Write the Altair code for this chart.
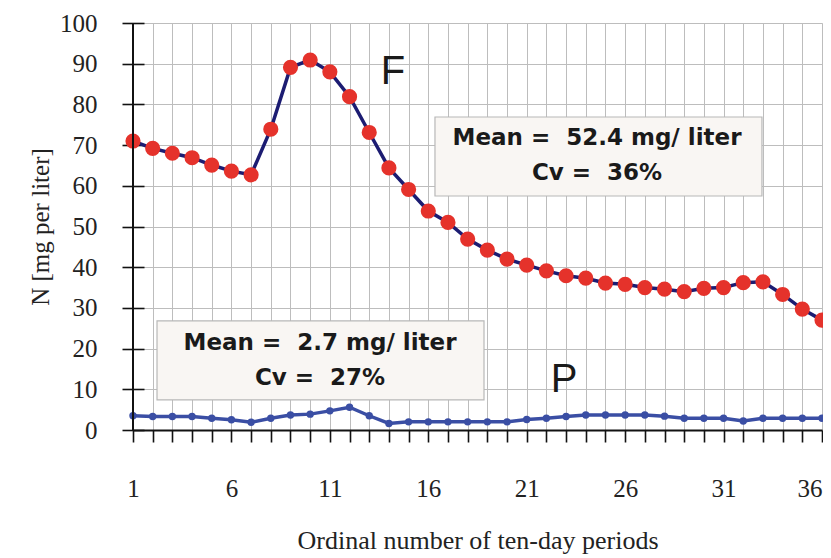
import altair as alt
import pandas as pd

periods = list(range(1, 37))
F_vals = [71.0, 69.2, 68.0, 66.9, 65.1, 63.6, 62.7, 73.9, 89.1, 90.9, 88.0, 81.9,
          73.1, 64.4, 59.1, 53.8, 51.0, 46.9, 44.2, 42.0, 40.5, 39.1, 37.9, 37.3,
          36.1, 35.8, 35.0, 34.6, 34.0, 34.8, 35.0, 36.2, 36.4, 33.3, 29.7, 27.0]
P_vals = [3.5, 3.3, 3.3, 3.3, 2.9, 2.5, 1.9, 2.9, 3.7, 3.9, 4.7, 5.6,
          3.5, 1.6, 2.0, 2.0, 2.0, 2.0, 2.0, 2.0, 2.6, 2.9, 3.3, 3.7,
          3.7, 3.7, 3.7, 3.4, 2.9, 2.9, 2.9, 2.2, 2.9, 2.9, 2.9, 2.9]

y_ticks = list(range(0, 101, 10))

# annotation boxes (data coordinates)
box_x1 = [16.34, 2.22]
box_x2 = [32.95, 18.83]
box_y1 = [57.5, 7.4]
box_y2 = [76.9, 26.8]
box_text_x = [24.57, 24.57, 10.5, 10.5]
box_text_y = [71.7, 63.1, 21.4, 12.8]
box_texts = ["Mean =\u00a0 52.4 mg/ liter", "Cv =\u00a0 36%",
             "Mean =\u00a0 2.7 mg/ liter", "Cv =\u00a0 27%"]

series_labels = ["F", "P"]
series_label_x = [14.2, 22.9]
series_label_y = [88.0, 12.3]

df_F = pd.DataFrame({"period": periods, "value": F_vals})
df_P = pd.DataFrame({"period": periods, "value": P_vals})
df_box = pd.DataFrame({"x1": box_x1, "x2": box_x2, "y1": box_y1, "y2": box_y2})
df_bt = pd.DataFrame({"x": box_text_x, "y": box_text_y, "t": box_texts})
df_sl = pd.DataFrame({"x": series_label_x, "y": series_label_y, "t": series_labels})

xscale = alt.Scale(domain=[1, 36], nice=False, zero=False)
yscale = alt.Scale(domain=[0, 100], nice=False)

x_axis = alt.Axis(
    values=periods,
    labelExpr="(datum.value - 1) % 5 == 0 ? datum.label : ''",
    labelAlign={"condition": {"test": "datum.value == 36", "value": "right"}, "value": "center"},
    grid=True, gridColor="#bdbdbd", gridWidth=1,
    domain=True, domainColor="#111111", domainWidth=2,
    ticks=True, tickSize=12, tickColor="#111111", tickWidth=1.6,
    labelFont="Liberation Serif", labelFontSize=25, labelColor="#222222",
    labelPadding=34, labelFlush=False, labelOverlap=False,
    title="Ordinal number of ten-day periods",
    titleFont="Liberation Serif", titleFontSize=26, titleFontWeight="normal",
    titleColor="#222222", titlePadding=26,
)
y_axis = alt.Axis(
    values=y_ticks,
    grid=True, gridColor="#bdbdbd", gridWidth=1,
    domain=False, offset=-11,
    ticks=True, tickSize=22, tickColor="#111111", tickWidth=1.6,
    labelFont="Liberation Serif", labelFontSize=25, labelColor="#222222",
    labelPadding=25, labelFlush=False,
    title="N [mg per liter]",
    titleFont="Liberation Serif", titleFontSize=25, titleFontWeight="normal",
    titleColor="#222222", titlePadding=6,
)


def X(field):
    return alt.X(field, scale=xscale, axis=x_axis)


def Y(field):
    return alt.Y(field, scale=yscale, axis=y_axis)


f_line = alt.Chart(df_F).mark_line(color="#1c1c72", strokeWidth=3.5).encode(
    x=X("period:Q"), y=Y("value:Q"),
)
f_pts = alt.Chart(df_F).mark_circle(color="#e5322b", opacity=1, size=230).encode(
    x=X("period:Q"), y=Y("value:Q"),
)
p_line = alt.Chart(df_P).mark_line(color="#3a4ea4", strokeWidth=3.5).encode(
    x=X("period:Q"), y=Y("value:Q"),
)
p_pts = alt.Chart(df_P).mark_circle(color="#3a4ea4", opacity=1, size=55).encode(
    x=X("period:Q"), y=Y("value:Q"),
)

left_rule = alt.Chart(df_F).mark_rule(color="#111111", strokeWidth=2).encode(
    x=alt.datum(1, scale=xscale, axis=x_axis),
    y=alt.datum(0, scale=yscale, axis=y_axis),
    y2=alt.datum(100),
)

boxes = alt.Chart(df_box).mark_rect(fill="#f9f6f3", stroke="#b8b8b8", strokeWidth=1.2).encode(
    x=X("x1:Q"), x2="x2:Q", y=Y("y1:Q"), y2="y2:Q",
)
box_txt = alt.Chart(df_bt).mark_text(
    font="DejaVu Sans", fontSize=23, fontWeight="bold", color="#1a1a1a",
    align="center", baseline="middle",
).encode(
    x=X("x:Q"), y=Y("y:Q"), text="t:N",
)
ser_txt = alt.Chart(df_sl).mark_text(
    font="Liberation Sans", fontSize=40, color="#1a1a1a",
    align="center", baseline="middle",
).encode(
    x=X("x:Q"), y=Y("y:Q"), text="t:N",
)

chart = alt.layer(
    f_line, boxes, box_txt, f_pts, p_line, p_pts, left_rule, ser_txt
).properties(
    width=689, height=407,
    autosize=alt.AutoSizeParams(type="none"),
    padding={"left": 125, "top": 15, "right": 1, "bottom": 125},
).configure_view(
    stroke="#a8a8a8", strokeWidth=1.2,
).configure(background="white")

chart.save("out.html", embed_options={"renderer": "svg", "actions": False})
